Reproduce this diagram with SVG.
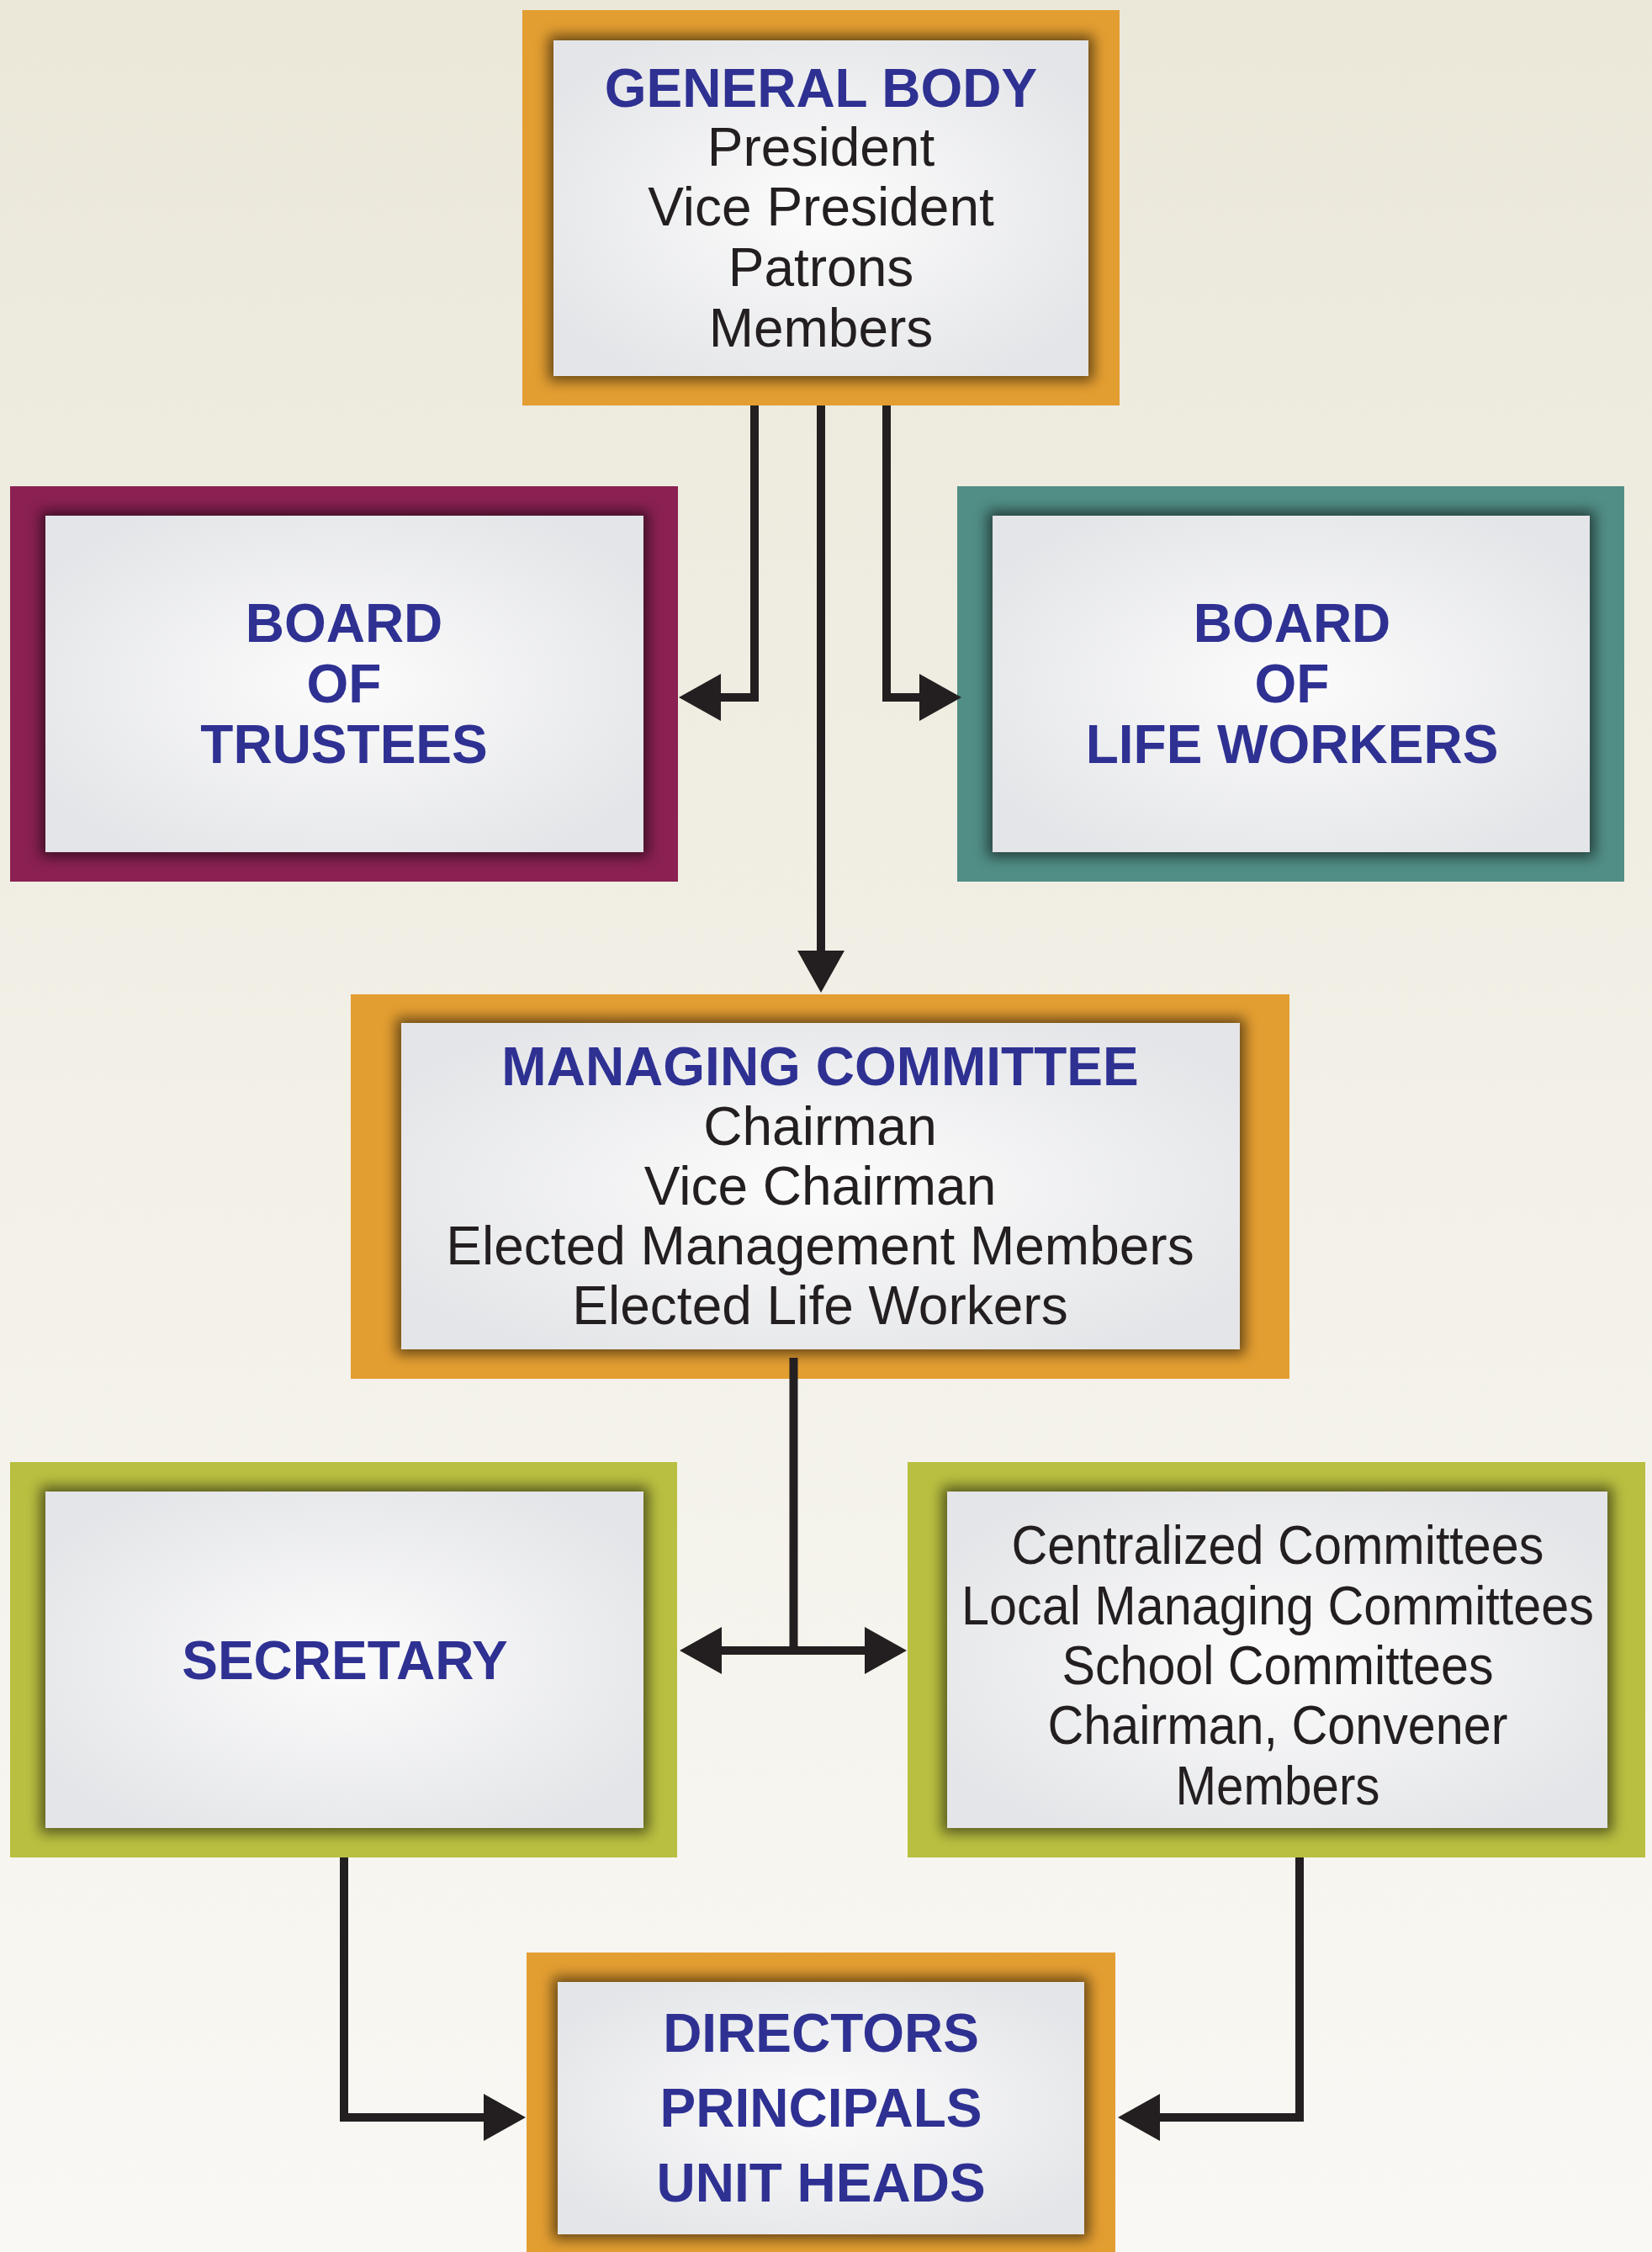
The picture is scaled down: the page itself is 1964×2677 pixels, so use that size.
<svg xmlns="http://www.w3.org/2000/svg" width="1964" height="2677" viewBox="0 0 1964 2677">
<defs>
<style>
.orange{fill:#e39e31}
.magenta{fill:#8b2152}
.teal{fill:#518e85}
.green{fill:#b9bf40}
.shadow{fill:#000;opacity:.55;filter:url(#glow)}
.paper{fill:url(#paper)}
.t{font-family:"Liberation Sans",Arial,sans-serif;font-size:64px;text-anchor:middle}
.title{font-weight:bold;fill:#2e3192}
.body{fill:#231f20}
.conn{fill:none;stroke:#231f20;stroke-width:10;stroke-linejoin:miter}
.arr{marker-end:url(#head)}
</style>
<linearGradient id="bg" x1="0" y1="0" x2="0" y2="1">
<stop offset="0" stop-color="#ebe8da"/>
<stop offset="1" stop-color="#f9f8f4"/>
</linearGradient>
<radialGradient id="paper" cx="0.5" cy="0.5" r="0.6">
<stop offset="0" stop-color="#fcfcfc"/>
<stop offset="1" stop-color="#e4e5e8"/>
</radialGradient>
<filter id="glow" x="-20%" y="-20%" width="140%" height="140%">
<feGaussianBlur stdDeviation="8"/>
</filter>
<marker id="head" viewBox="0 0 50 56" refX="1" refY="28" markerWidth="50" markerHeight="56" markerUnits="userSpaceOnUse" orient="auto-start-reverse">
<path d="M0,0 L50,28 L0,56 Z" fill="#231f20"/>
</marker>
</defs>
<rect x="0" y="0" width="1964" height="2677" fill="url(#bg)"/>

<g id="general-body">
<rect class="orange" x="621" y="12" width="710" height="470"/>
<rect class="shadow" x="652" y="42" width="648" height="411"/>
<rect class="paper" x="658" y="48" width="636" height="399"/>
<text class="t title" x="976" y="127">GENERAL BODY</text>
<text class="t body" x="976" y="197">President</text>
<text class="t body" x="976" y="268">Vice President</text>
<text class="t body" x="976" y="340">Patrons</text>
<text class="t body" x="976" y="412">Members</text>
</g>

<g id="board-of-trustees">
<rect class="magenta" x="12" y="578" width="794" height="470"/>
<rect class="shadow" x="48" y="607" width="723" height="412"/>
<rect class="paper" x="54" y="613" width="711" height="400"/>
<text class="t title" x="409" y="763">BOARD</text>
<text class="t title" x="409" y="835">OF</text>
<text class="t title" x="409" y="907">TRUSTEES</text>
</g>

<g id="board-of-life-workers">
<rect class="teal" x="1138" y="578" width="793" height="470"/>
<rect class="shadow" x="1174" y="607" width="722" height="412"/>
<rect class="paper" x="1180" y="613" width="710" height="400"/>
<text class="t title" x="1536" y="763">BOARD</text>
<text class="t title" x="1536" y="835">OF</text>
<text class="t title" x="1536" y="907">LIFE WORKERS</text>
</g>

<g id="managing-committee">
<rect class="orange" x="417" y="1182" width="1116" height="457"/>
<rect class="shadow" x="471" y="1210" width="1009" height="400"/>
<rect class="paper" x="477" y="1216" width="997" height="388"/>
<text class="t title" x="975" y="1290">MANAGING COMMITTEE</text>
<text class="t body" x="975" y="1361">Chairman</text>
<text class="t body" x="975" y="1432">Vice Chairman</text>
<text class="t body" x="975" y="1503">Elected Management Members</text>
<text class="t body" x="975" y="1574">Elected Life Workers</text>
</g>

<g id="secretary">
<rect class="green" x="12" y="1738" width="793" height="470"/>
<rect class="shadow" x="48" y="1767" width="723" height="412"/>
<rect class="paper" x="54" y="1773" width="711" height="400"/>
<text class="t title" x="410" y="1996">SECRETARY</text>
</g>

<g id="committees">
<rect class="green" x="1079" y="1738" width="877" height="470"/>
<rect class="shadow" x="1120" y="1767" width="797" height="412"/>
<rect class="paper" x="1126" y="1773" width="785" height="400"/>
<text class="t body" x="1519" y="1859" textLength="633" lengthAdjust="spacingAndGlyphs">Centralized Committees</text>
<text class="t body" x="1519" y="1931" textLength="752" lengthAdjust="spacingAndGlyphs">Local Managing Committees</text>
<text class="t body" x="1519" y="2002" textLength="513" lengthAdjust="spacingAndGlyphs">School Committees</text>
<text class="t body" x="1519" y="2073" textLength="547" lengthAdjust="spacingAndGlyphs">Chairman, Convener</text>
<text class="t body" x="1519" y="2145" textLength="243" lengthAdjust="spacingAndGlyphs">Members</text>
</g>

<g id="directors">
<rect class="orange" x="626" y="2321" width="700" height="370"/>
<rect class="shadow" x="657" y="2350" width="638" height="312"/>
<rect class="paper" x="663" y="2356" width="626" height="300"/>
<text class="t title" x="976" y="2439">DIRECTORS</text>
<text class="t title" x="976" y="2528">PRINCIPALS</text>
<text class="t title" x="976" y="2617">UNIT HEADS</text>
</g>

<g id="connectors">
<path class="conn arr" d="M897 482 V829 H856"/>
<path class="conn arr" d="M976 482 V1131"/>
<path class="conn arr" d="M1054 482 V829 H1094"/>
<path class="conn" d="M943.5 1614 V1962"/>
<path class="conn" d="M857 1962 H1029" marker-start="url(#head)" marker-end="url(#head)"/>
<path class="conn arr" d="M409 2208 V2517 H576"/>
<path class="conn arr" d="M1545 2208 V2517 H1378"/>
</g>
</svg>
